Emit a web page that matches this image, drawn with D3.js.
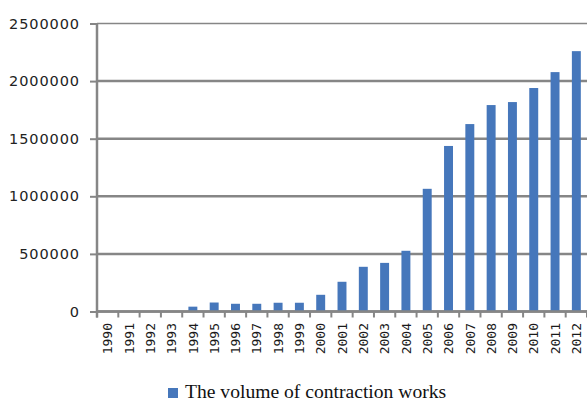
<!DOCTYPE html>
<html>
<head>
<meta charset="utf-8">
<script src="https://cdn.jsdelivr.net/npm/d3@7"></script>
<style>
  body { margin: 0; background: #fff; }
  svg { display: block; }
</style>
</head>
<body>
<div id="chart"></div>
<script>
// Data
const years = ["1990", "1991", "1992", "1993", "1994", "1995", "1996", "1997", "1998", "1999",
    "2000", "2001", "2002", "2003", "2004", "2005", "2006", "2007", "2008", "2009", "2010", "2011", "2012"];
const volumes = [0, 0, 0, 0, 42000, 78000, 67000, 67000, 76000, 76000,
    145000, 258000, 388000, 422000, 527000, 1065000, 1437000, 1627000, 1792000, 1818000, 1940000, 2078000, 2260000];
const yTicks = [0, 500000, 1000000, 1500000, 2000000, 2500000];
const seriesName = "The volume of contraction works";

const width = 587, height = 401;
const plotLeft = 97, plotRight = 587, plotTop = 23.5, plotBottom = 311.5;
const gray = "#868686";
const blue = "#4677bb";

const svg = d3.select("#chart").append("svg")
    .attr("width", width)
    .attr("height", height);

const x = d3.scaleBand()
    .domain(years)
    .range([plotLeft, plotRight])
    .paddingInner(0.58)
    .paddingOuter(0.29);

const y = d3.scaleLinear()
    .domain([0, 2500000])
    .range([plotBottom, plotTop]);

// gridlines
svg.append("g")
    .selectAll("line")
    .data(yTicks)
    .join("line")
    .attr("x1", plotLeft)
    .attr("x2", plotRight)
    .attr("y1", d => y(d))
    .attr("y2", d => y(d))
    .attr("stroke", gray)
    .attr("stroke-width", d => d === 2500000 ? 1.5 : 2.5);

// y axis
const yAxis = svg.append("g")
    .attr("transform", `translate(${plotLeft},0)`)
    .call(d3.axisLeft(y).tickValues(yTicks).tickSize(7).tickPadding(10).tickFormat(d3.format("d")));
yAxis.select(".domain").remove();
yAxis.selectAll(".tick line").attr("stroke", gray).attr("stroke-width", 2);
yAxis.selectAll(".tick text")
    .attr("fill", "#222")
    .style("font-family", "'DejaVu Sans', Verdana, sans-serif")
    .style("font-size", "14.5px")
    .style("letter-spacing", "0.9px");

svg.append("line")
    .attr("x1", plotLeft).attr("x2", plotLeft)
    .attr("y1", plotTop - 0.5).attr("y2", plotBottom + 6)
    .attr("stroke", gray)
    .attr("stroke-width", 2.5);

// bars
svg.append("g")
    .selectAll("rect")
    .data(years.map((yr, i) => ({ year: yr, value: volumes[i] })))
    .join("rect")
    .attr("x", d => x(d.year))
    .attr("y", d => y(d.value))
    .attr("width", x.bandwidth())
    .attr("height", d => y(0) - y(d.value))
    .attr("fill", blue);

// x axis baseline, ticks between categories, and labels
const step = x.step();
const boundaries = years.map(yr => x(yr) - step * x.paddingInner() / 2);
boundaries.push(plotRight);

const xg = svg.append("g");
xg.append("line")
    .attr("x1", plotLeft).attr("x2", plotRight)
    .attr("y1", plotBottom).attr("y2", plotBottom)
    .attr("stroke", gray)
    .attr("stroke-width", 2.5);
xg.selectAll("line.tick")
    .data(boundaries)
    .join("line")
    .attr("class", "tick")
    .attr("x1", d => d).attr("x2", d => d)
    .attr("y1", plotBottom).attr("y2", plotBottom + 6)
    .attr("stroke", gray)
    .attr("stroke-width", 2);

xg.selectAll("text")
    .data(years)
    .join("text")
    .attr("transform", d => `translate(${x(d) + x.bandwidth() / 2 + 4.7},${plotBottom + 11.5}) rotate(-90)`)
    .attr("text-anchor", "end")
    .attr("fill", "#1a1a1a")
    .style("font-family", "'DejaVu Sans Mono', monospace")
    .style("font-size", "13px")
    .text(d => d);

// legend
const legend = svg.append("g").attr("transform", "translate(168,388)");
legend.append("rect")
    .attr("width", 10)
    .attr("height", 10)
    .attr("fill", blue);
legend.append("text")
    .attr("x", 17)
    .attr("y", 10)
    .attr("fill", "#111")
    .style("font-family", "'Liberation Serif', 'Times New Roman', serif")
    .style("font-size", "19.6px")
    .text(seriesName);
</script>
</body>
</html>
